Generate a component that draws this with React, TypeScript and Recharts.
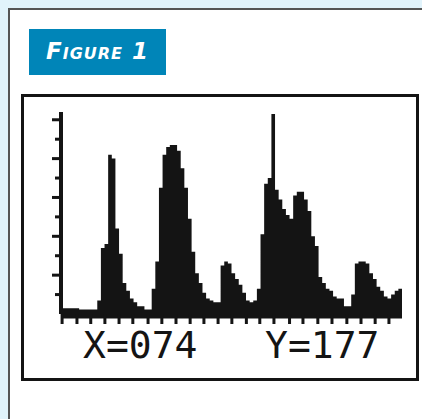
import { AreaChart, Area, XAxis, YAxis } from "recharts";

// histogram counts, one per calculator pixel column
const counts = [
  3, 3, 3, 3, 3, 1, 1, 1, 1, 1,
  7, 34, 36, 82, 80, 44, 31, 16, 12, 8,
  6, 4, 4, 2, 2, 13, 27, 65, 82, 86,
  87, 87, 84, 75, 65, 49, 32, 21, 16, 11,
  8, 7, 6, 6, 25, 27, 26, 21, 18, 15,
  11, 7, 6, 7, 13, 41, 67, 70, 103, 64,
  59, 54, 51, 49, 61, 63, 63, 59, 53, 40,
  35, 19, 16, 13, 12, 9, 8, 8, 4, 4,
  10, 26, 27, 27, 26, 21, 18, 14, 12, 9,
  8, 10, 12, 13,
];
const yTicks = [10, 20, 30, 40, 50, 60, 70, 80, 90, 100];
// tick marks under the axis, in bin units
const xTicks = [
  0.3, 4.4, 8.2, 12.1, 16.0, 19.8, 24.0, 27.8, 31.7, 35.6, 39.4, 43.3,
  47.1, 51.1, 54.8, 58.7, 63.0, 66.7, 70.8, 74.7, 78.8, 82.7, 86.6, 90.4,
];
const readout = { x: "X=074", y: "Y=177" };

// last point closes the final step
const data = [...counts.map((c, i) => ({ bin: i, count: c })), { bin: counts.length, count: counts[counts.length - 1] }];

const INK = "#141414";

function YTick({ x, y, payload }: any) {
  const len = payload.value % 20 === 0 ? 9 : 6;
  return <line x1={x - len} x2={x} y1={y} y2={y} stroke={INK} strokeWidth={3} />;
}

function XTick({ x, y }: any) {
  return <line x1={x} x2={x} y1={y} y2={y + 10} stroke={INK} strokeWidth={3} />;
}

export default function App() {
  return (
    <div style={{ position: "absolute", left: 0, top: 0, width: 422, height: 419, overflow: "hidden", background: "#e1f3fb" }}>
      <div style={{ position: "absolute", left: 8, top: 8, width: 440, height: 440, border: "2px solid #555", background: "#fff" }} />
      <div style={{ position: "absolute", left: 29, top: 29, width: 137, height: 46, background: "#0085b8" }} />
      <div style={{ position: "absolute", left: 21, top: 94, width: 392, height: 281, border: "3px solid " + INK, background: "#fff" }} />
      <AreaChart
        width={422}
        height={419}
        data={data}
        margin={{ top: 112, right: 20, bottom: 104, left: 60 }}
        style={{ position: "absolute", left: 0, top: 0 }}
      >
        <XAxis
          dataKey="bin"
          type="number"
          domain={[0, counts.length]}
          ticks={xTicks}
          interval={0}
          height={1}
          allowDataOverflow
          tickSize={0}
          tickMargin={0}
          tickLine={false}
          tick={<XTick />}
          axisLine={{ stroke: INK, strokeWidth: 9 }}
        />
        <YAxis
          type="number"
          domain={[0, 104]}
          ticks={yTicks}
          interval={0}
          width={1}
          allowDataOverflow
          tickSize={0}
          tickMargin={0}
          tickLine={false}
          tick={<YTick />}
          axisLine={{ stroke: INK, strokeWidth: 4 }}
        />
        <Area
          dataKey="count"
          type="stepAfter"
          stroke="none"
          fill={INK}
          fillOpacity={1}
          isAnimationActive={false}
        />
      </AreaChart>
      <svg width={422} height={419} style={{ position: "absolute", left: 0, top: 0 }}>
        <text x={46} y={59} fill="#fff" fontFamily="'DejaVu Sans'" fontWeight={700} fontStyle="italic" fontSize={23} letterSpacing={1} style={{ fontVariant: "small-caps" }}>
          Figure 1
        </text>
        <text x={83} y={358} fill={INK} fontFamily="'DejaVu Sans Mono'" fontSize={38}>{readout.x}</text>
        <text x={265} y={358} fill={INK} fontFamily="'DejaVu Sans Mono'" fontSize={38}>{readout.y}</text>
      </svg>
    </div>
  );
}
